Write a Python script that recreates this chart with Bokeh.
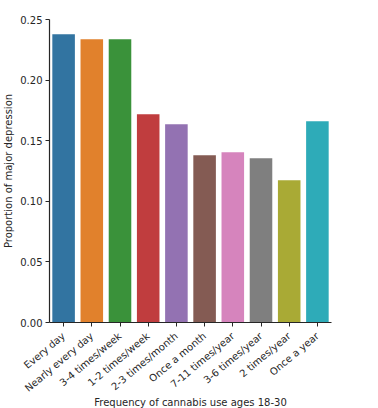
from bokeh.plotting import figure
from bokeh.models import ColumnDataSource, FactorRange, Range1d, FixedTicker, NumeralTickFormatter
from bokeh.embed import file_html
from bokeh.resources import INLINE
import math

categories = ["Every day", "Nearly every day", "3-4 times/week", "1-2 times/week",
              "2-3 times/month", "Once a month", "7-11 times/year", "3-6 times/year",
              "2 times/year", "Once a year"]
proportions = [0.2379, 0.2337, 0.2337, 0.1719, 0.1636, 0.1380, 0.1405, 0.1356, 0.1174, 0.1661]
colors = ["#3274a1", "#e1812c", "#3a923a", "#c03d3e", "#9372b2",
          "#845b53", "#d684bd", "#7f7f7f", "#a9aa35", "#2eabb8"]
y_ticks = [0.0, 0.05, 0.10, 0.15, 0.20, 0.25]

src = ColumnDataSource(dict(cat=categories, val=proportions, color=colors))

p = figure(x_range=FactorRange(*categories, range_padding=0), y_range=Range1d(0, 0.25),
           frame_width=282, frame_height=303, output_backend="svg", toolbar_location=None,
           min_border_left=48, min_border_top=19, min_border_right=38, min_border_bottom=10)
p.vbar(x="cat", top="val", width=0.8, color="color", source=src, line_color=None)

FONT = "DejaVu Sans"
TXT = "#262626"
p.outline_line_color = None
p.xgrid.visible = False
p.ygrid.visible = False

p.yaxis.ticker = FixedTicker(ticks=y_ticks)
p.yaxis.formatter = NumeralTickFormatter(format="0.00")
p.yaxis.axis_label = "Proportion of major depression"
p.xaxis.axis_label = "Frequency of cannabis use ages 18-30"
p.xaxis.major_label_orientation = math.pi / 4.5

for ax in (p.xaxis[0], p.yaxis[0]):
    ax.axis_line_color = TXT
    ax.axis_line_width = 1.2
    ax.major_tick_line_color = TXT
    ax.major_tick_in = 0
    ax.major_tick_out = 4
    ax.minor_tick_line_color = None
    ax.major_label_text_font = FONT
    ax.major_label_text_font_size = "10px"
    ax.major_label_text_color = TXT
    ax.axis_label_text_font = FONT
    ax.axis_label_text_font_size = "10px"
    ax.axis_label_text_font_style = "normal"
    ax.axis_label_text_color = TXT
    ax.major_label_standoff = 3
    ax.axis_label_standoff = 6

p.yaxis.axis_label_standoff = 3
p.xaxis.major_label_standoff = 8
p.xaxis.axis_label_standoff = -4

open("out.html", "w").write(file_html(p, INLINE))
